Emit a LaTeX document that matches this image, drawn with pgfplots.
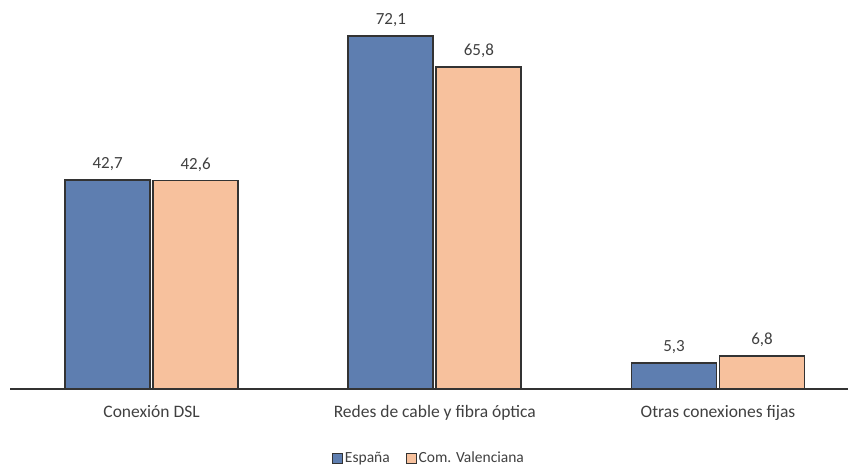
\documentclass[border=0pt]{standalone}
\usepackage{pgfplots}
\pgfplotsset{compat=1.18}
\usepackage{fontspec}
\setmainfont{Carlito}
\definecolor{cblue}{HTML}{5E7EB0}
\definecolor{cpeach}{HTML}{F7C19D}
\definecolor{cedge}{HTML}{333333}
\definecolor{ctext}{HTML}{404040}
\begin{document}
\begin{tikzpicture}
\useasboundingbox (-10bp,-76bp) rectangle (838bp,389bp);
\begin{axis}[
  scale only axis, width=838bp, height=389bp,
  xmin=-0.5, xmax=2.459, ymin=0, ymax=79.5,
  axis x line*=bottom, axis y line=none,
  x axis line style={draw=black!80, line width=1.2bp, -},
  xtick=data, xticklabels={Conexión DSL, Redes de cable y fibra óptica, Otras conexiones fijas},
  major tick length=0pt,
  /pgf/number format/assume math mode=true,
  ticklabel style={font=\fontsize{17.5bp}{20bp}\selectfont, text=ctext},
  xticklabel style={yshift=-13bp},
  ybar=3bp, bar width=85bp,
  nodes near coords={\pgfmathprintnumber[fixed, fixed zerofill, precision=1, use comma, assume math mode=true]{\pgfplotspointmeta}},
  nodes near coords style={font=\fontsize{17bp}{20bp}\selectfont, text=ctext, yshift=5bp},
  legend style={draw=none, at={(0.5,-69bp)}, anchor=center, legend columns=2, font=\fontsize{15.5bp}{17bp}\selectfont, text=ctext, /tikz/every even column/.append style={column sep=14bp}},
  legend image code/.code={\draw[#1, line width=0.9bp] (0bp,-5bp) rectangle (10bp,5bp);},
  clip=false,
]
\addplot[fill=cblue, draw=cedge, line width=1.7bp] coordinates {(0,42.7) (1,72.1) (2,5.3)};
\addplot[fill=cpeach, draw=cedge, line width=1.7bp] coordinates {(0,42.6) (1,65.8) (2,6.8)};
\legend{España, Com. Valenciana}
\end{axis}
\end{tikzpicture}
\end{document}
